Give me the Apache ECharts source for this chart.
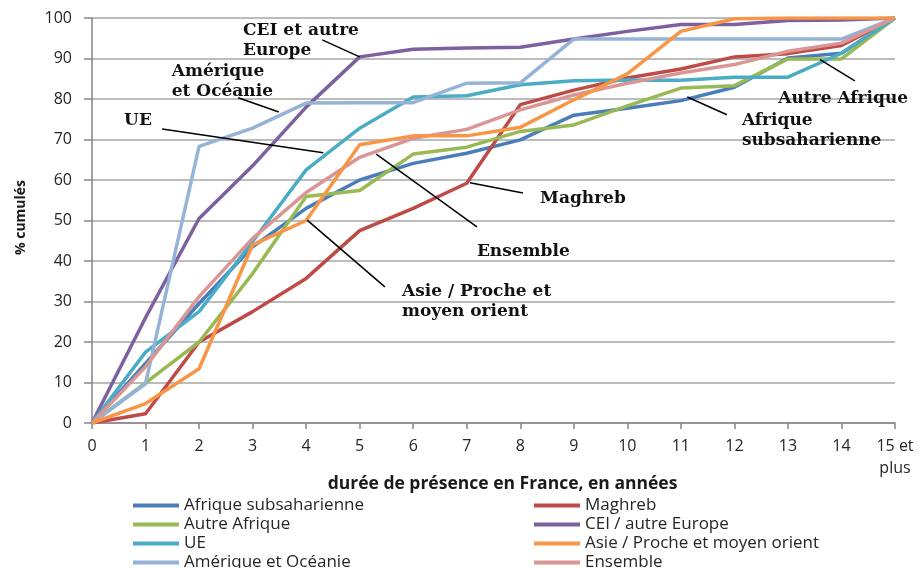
<!DOCTYPE html>
<html>
<head>
<meta charset="utf-8">
<script src="https://cdn.jsdelivr.net/npm/echarts@6/dist/echarts.min.js"></script>
<style>
  html, body { margin: 0; padding: 0; background: #fff; }
  #chart { width: 923px; height: 568px; }
</style>
</head>
<body>
<div id="chart"></div>
<script>
// années de présence (15 = "15 et plus")
const years = [0, 1, 2, 3, 4, 5, 6, 7, 8, 9, 10, 11, 12, 13, 14, 15];

// % cumulés par origine
const afriqueSub = [0, 14.7, 29.5, 43.5, 53, 60, 64.1, 66.6, 69.9, 76, 77.7, 79.6, 82.9, 90.1, 91.3, 100];
const maghreb = [0, 2.3, 20, 27.5, 35.7, 47.5, 53, 59.2, 78.6, 82.2, 85.2, 87.4, 90.4, 91.2, 93.2, 100];
const autreAfrique = [0, 9.9, 20, 36.9, 55.9, 57.4, 66.4, 68.1, 72, 73.6, 78.3, 82.7, 83.3, 89.9, 89.9, 100];
const cei = [0, 26, 50.5, 63.5, 78, 90.4, 92.3, 92.6, 92.8, 94.8, 96.7, 98.4, 98.4, 99.4, 99.5, 100];
const ue = [0, 17.5, 27.5, 44.8, 62.5, 72.8, 80.5, 80.8, 83.5, 84.5, 84.7, 84.6, 85.4, 85.4, 91.3, 100];
const asie = [0, 4.8, 13.4, 44, 50, 68.7, 70.9, 70.9, 73, 79.8, 86.2, 96.7, 99.8, 100, 100, 100];
const amerique = [0, 9.7, 68.3, 72.8, 79, 79.1, 79.1, 83.9, 84, 94.8, 94.8, 94.8, 94.8, 94.8, 94.8, 100];
const ensemble = [0, 13.9, 31.2, 45.6, 56.9, 65.6, 70.3, 72.5, 77.3, 81, 83.9, 86.4, 88.5, 91.8, 93.8, 100];

const seriesNames = [
  "Afrique subsaharienne", "Maghreb", "Autre Afrique", "CEI / autre Europe",
  "UE", "Asie / Proche et moyen orient", "Amérique et Océanie", "Ensemble"
];
const seriesValues = [afriqueSub, maghreb, autreAfrique, cei, ue, asie, amerique, ensemble];
const colors = ["#4a7ebb", "#be4b48", "#98b954", "#7d60a0", "#4bacc6", "#f79646", "#95b3d7", "#d99694"];

// étiquettes posées sur le graphique : texte (coin haut-gauche) et trait de rappel, en unités des axes
const notes = [
  { text: "CEI et autre\nEurope", at: [2.82, 99.4], line: [[4.30, 94.6], [5, 90.4]] },
  { text: "Amérique\net Océanie", at: [1.49, 89.2], line: [[2.73, 80.3], [3.49, 76.8]] },
  { text: "UE", at: [0.60, 77.2], line: [[1.31, 72.6], [4.32, 66.7]] },
  { text: "Ensemble", at: [7.19, 44.8], line: [[5.31, 66.4], [7.19, 48.4]] },
  { text: "Maghreb", at: [8.37, 57.8], line: [[7.06, 59.3], [8.05, 56.8]] },
  { text: "Asie / Proche et\nmoyen orient", at: [5.79, 34.8], line: [[4.02, 50.1], [5.47, 33.6]] },
  { text: "Autre Afrique", at: [12.82, 82.6], line: [[13.60, 89.7], [14.25, 84.5]] },
  { text: "Afrique\nsubsaharienne", at: [12.14, 77.2], line: [[11.12, 80.5], [11.86, 76.1]] }
];

const chart = echarts.init(document.getElementById("chart"));

const legendText = { fontFamily: "Open Sans", fontSize: 17, color: "#262626", lineHeight: 16 };
const legendBase = {
  orient: "vertical",
  top: 492,
  height: 100,
  itemWidth: 46,
  itemHeight: 4,
  itemGap: 2,
  icon: "rect",
  textStyle: legendText,
  selectedMode: false
};

const option = {
  animation: false,
  color: colors,
  grid: { left: 92, right: 28, top: 18, bottom: 145 },
  legend: [
    Object.assign({}, legendBase, { left: 128, data: [seriesNames[0], seriesNames[2], seriesNames[4], seriesNames[6]] }),
    Object.assign({}, legendBase, { left: 529, data: [seriesNames[1], seriesNames[3], seriesNames[5], seriesNames[7]] })
  ],
  xAxis: {
    type: "value",
    min: 0,
    max: 15,
    interval: 1,
    name: "durée de présence en France, en années",
    nameLocation: "middle",
    nameGap: 52,
    nameMoveOverlap: false,
    nameTextStyle: { fontFamily: "Open Sans", fontSize: 17.5, fontWeight: "bold", color: "#1a1a1a", padding: [0, 0, 0, 18] },
    axisLine: { lineStyle: { color: "#868686", width: 1.5 } },
    axisTick: { show: true, length: 6, lineStyle: { color: "#868686", width: 1.5 } },
    axisLabel: {
      margin: 12,
      fontFamily: "Open Sans",
      fontSize: 16,
      color: "#262626",
      lineHeight: 22,
      formatter: (v) => (v === 15 ? "15 et\nplus" : String(v))
    },
    splitLine: { show: false }
  },
  yAxis: {
    type: "value",
    min: 0,
    max: 100,
    interval: 10,
    name: "% cumulés",
    nameLocation: "middle",
    nameGap: 64,
    nameMoveOverlap: false,
    nameTextStyle: { fontFamily: "Open Sans", fontSize: 14, fontWeight: "bold", color: "#1a1a1a", padding: [0, 0, 0, 6] },
    axisLine: { show: true, lineStyle: { color: "#868686", width: 1.5 } },
    axisTick: { show: true, length: 8, lineStyle: { color: "#868686", width: 1.5 } },
    axisLabel: { margin: 20, fontFamily: "Open Sans", fontSize: 16, color: "#262626" },
    splitLine: { lineStyle: { color: "#a6a6a6", width: 1.5 } }
  },
  series: seriesNames.map((name, i) => ({
    name: name,
    type: "line",
    symbol: "none",
    z: i === 5 ? 4 : 2,
    lineStyle: { width: 3.5, color: colors[i] },
    itemStyle: { color: colors[i] },
    data: years.map((y, j) => [y, seriesValues[i][j]])
  }))
};

chart.setOption(option);

// étiquettes et traits de rappel
const graphics = [];
notes.forEach((n) => {
  const p = chart.convertToPixel({ gridIndex: 0 }, n.at);
  const a = chart.convertToPixel({ gridIndex: 0 }, n.line[0]);
  const b = chart.convertToPixel({ gridIndex: 0 }, n.line[1]);
  graphics.push({
    type: "line",
    shape: { x1: a[0], y1: a[1], x2: b[0], y2: b[1] },
    style: { stroke: "#000", lineWidth: 1.5 },
    z: 10
  });
  graphics.push({
    type: "text",
    x: p[0],
    y: p[1],
    style: {
      text: n.text,
      font: "bold 17px 'DejaVu Serif'",
      fill: "#111",
      lineHeight: 20,
      verticalAlign: "top",
      align: "left"
    },
    z: 11
  });
});
chart.setOption({ graphic: graphics });
</script>
</body>
</html>
